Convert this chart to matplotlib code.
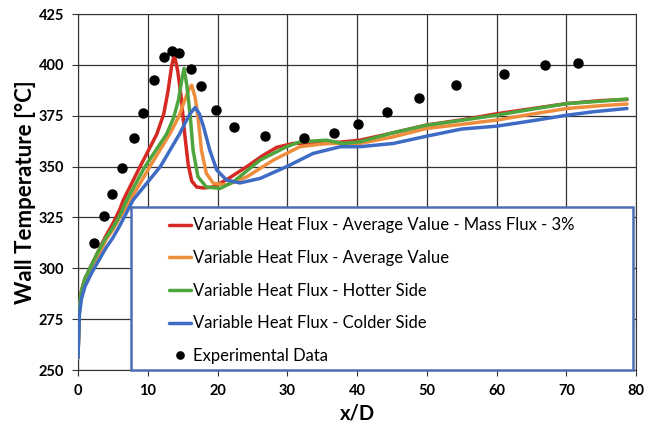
import numpy as np
import matplotlib.pyplot as plt
from matplotlib.patches import Rectangle

plt.rcParams["font.family"] = ["Lato", "DejaVu Sans"]

# Experimental data
exp_x = [2.3, 3.7, 4.9, 6.35, 8.0, 9.3, 10.9, 12.3, 13.5, 14.5, 16.15, 17.6, 19.8,
         22.4, 26.8, 32.4, 36.7, 40.2, 44.3, 48.9, 54.2, 61.0, 67.0, 71.7]
exp_y = [312.4, 325.7, 336.4, 349.4, 364.2, 376.5, 392.6, 404.0, 407.0, 406.0, 398.0, 389.6, 377.8,
         369.6, 365.0, 364.2, 366.3, 370.9, 377.0, 383.9, 390.0, 395.8, 399.9, 400.9]

# Variable Heat Flux - Average Value - Mass Flux - 3%
red_x = [0, 0.2, 0.5, 1, 2, 3, 4, 5, 6, 6.5, 8.9, 11.3, 12.3, 12.9, 13.4, 13.8, 14.3, 14.8, 15.3,
         15.8, 16.3, 17.0, 18.0, 19.4, 21.5, 24.2, 26.5, 28.5, 30.8, 33, 35.6, 40.4, 45, 50, 55,
         60, 65, 70, 75, 78.7]
red_y = [256, 280, 289, 295, 302, 309, 316, 322, 329, 333.6, 350, 366, 376, 387, 399, 405, 397, 384, 366,
         351, 343, 340, 339.5, 340, 344, 350, 355.5, 359.5, 361.4, 361.6, 361.4, 363, 366.5, 370.5, 373,
         376, 378.5, 381, 382.5, 383]

# Variable Heat Flux - Average Value
orange_x = [0, 0.2, 0.5, 1, 2, 3, 4, 5, 6, 7.5, 10.3, 13.2, 14.5, 15.3, 15.9, 16.3, 16.8, 17.2, 17.7,
            18.4, 19.4, 21.3, 24.2, 28.0, 31.8, 35.6, 40.4, 45, 50, 55, 60, 65, 70.1, 75, 78.7]
orange_y = [256, 279, 288, 294, 301, 307, 314, 319, 325, 333.6, 350, 366.3, 375, 382.7, 388, 390, 384, 374.5, 358,
            346.7, 341.8, 341, 345, 353.2, 359.8, 361.4, 361.4, 364.5, 368.8, 370.8, 372.9, 375.8, 378.6, 380, 380.8]

# Variable Heat Flux - Hotter Side
green_x = [0, 0.2, 0.5, 1, 2, 3, 4, 5, 6, 7, 9.6, 12.7, 13.7, 14.4, 14.9, 15.2, 15.6, 16.1, 16.5,
           17.2, 18.4, 20.4, 22.3, 26.1, 29.9, 31.8, 35.6, 38.0, 40.4, 45, 50, 55, 60, 65, 70.1, 75, 78.7]
green_y = [256, 281, 289, 295, 302, 309, 315, 320, 326, 333.6, 350, 366, 374, 382.7, 393, 398.3, 390, 374.5, 358,
           345, 340, 339.3, 342.6, 353.2, 359.8, 362.2, 363, 361.4, 362.2, 366.5, 370.4, 372.8, 375.3, 378.2,
           381, 382.2, 383.3]

# Variable Heat Flux - Colder Side
blue_x = [0, 0.2, 0.5, 1, 2, 3, 4, 5, 6, 7.9, 11.8, 14.6, 15.5, 16.1, 16.8, 17.4, 18.0, 18.9, 19.9,
          21.3, 23.2, 26.1, 29.9, 33.7, 37.6, 40.4, 45.2, 50, 55, 60, 65, 70.1, 73.9, 78.7]
blue_y = [256, 277, 285, 291, 298, 304, 310, 315, 321, 333.6, 350, 366.3, 372.5, 376.2, 379.1, 376, 369.6, 358,
          348.3, 343.4, 342, 344.2, 350, 356.5, 359.8, 359.8, 361.4, 365, 368.5, 369.9, 372.5, 375.3, 377, 378.6]

labels = ["Variable Heat Flux - Average Value - Mass Flux - 3%",
          "Variable Heat Flux - Average Value",
          "Variable Heat Flux - Hotter Side",
          "Variable Heat Flux - Colder Side",
          "Experimental Data"]
colors = ["#D42A22", "#EE8E3C", "#4EA53E", "#3E6CC4"]

fig = plt.figure(figsize=(6.46, 4.28), dpi=100)
ax = fig.add_axes([0.1207, 0.1355, 0.864, 0.8315])

series = [(red_x, red_y), (orange_x, orange_y), (green_x, green_y), (blue_x, blue_y)]
handles = []
for (sx, sy), c, lab in zip(series, colors, labels[:4]):
    h, = ax.plot(sx, sy, color=c, lw=2.5, label=lab, zorder=3,
                 solid_joinstyle="round", solid_capstyle="round")
    handles.append(h)
h_exp, = ax.plot(exp_x, exp_y, "o", color="black", ms=6.5, label=labels[4], zorder=4)
handles.append(h_exp)

ax.set_xlim(0, 80)
ax.set_ylim(250, 425)
ax.set_xticks(np.arange(0, 81, 10))
ax.set_yticks(np.arange(250, 426, 25))
ax.grid(True, color="#333333", lw=0.9)
ax.set_axisbelow(True)
for sp in ax.spines.values():
    sp.set_color("#333333")
ax.tick_params(direction="out", length=4, color="#333333", labelsize=10.5, pad=6)
for t in ax.get_xticklabels() + ax.get_yticklabels():
    t.set_fontweight("bold")

ax.set_xlabel("x/D", fontsize=14.5, fontweight="bold", labelpad=4)
ax.set_ylabel("Wall Temperature [°C]", fontsize=16, fontweight="bold", labelpad=2)

# legend box
box = Rectangle((0.095, 0.0), 0.9, 0.458, transform=ax.transAxes, facecolor="white",
                edgecolor="#4A6DB5", lw=1.8, zorder=5, clip_on=False)
ax.add_patch(box)
leg = ax.legend(handles=handles, loc="upper left", bbox_to_anchor=(0.14, 0.466),
                frameon=False, fontsize=12, handlelength=1.3, handletextpad=0.1,
                labelspacing=1.0, borderpad=0.3, markerscale=0.8)
leg.set_zorder(6)

fig.savefig("out.png", dpi=100)
